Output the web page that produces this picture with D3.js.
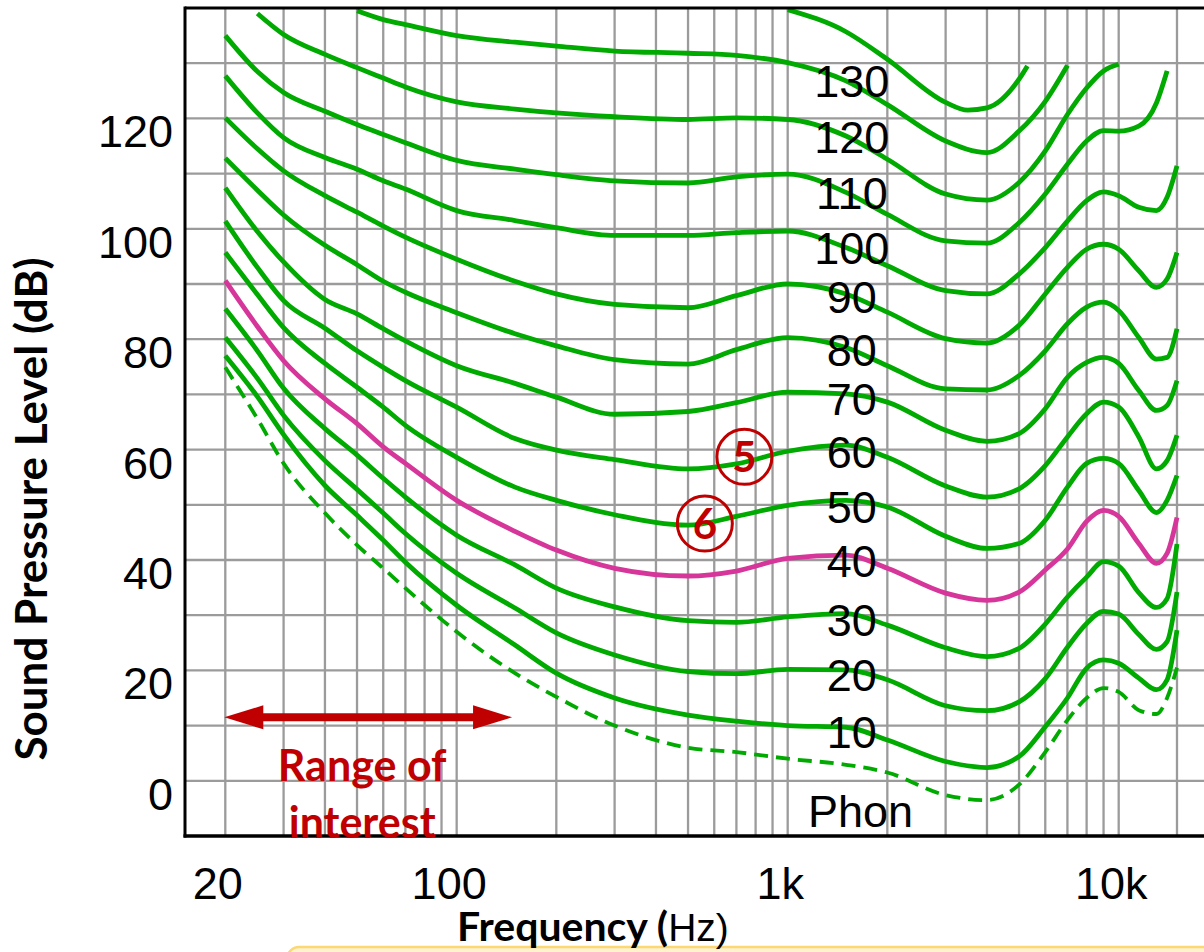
<!DOCTYPE html>
<html><head><meta charset="utf-8">
<script src="https://cdn.jsdelivr.net/npm/d3@7"></script>
<style>html,body{margin:0;padding:0;background:#fff;overflow:hidden}</style>
</head><body>
<svg id="chart" width="1204" height="952"></svg>
<script>
// ---- data ----
const freqs   = [20, 25, 30, 40, 50, 60, 70, 100, 150, 200, 300, 500, 700, 1000, 1500, 2000, 3000, 4000, 5000, 6000, 7000, 8000, 9000, 10000, 11500, 13000, 14000, 15000];
const phon0   = [74.9, 65.6, 57.5, 48.5, 42.7, 38.5, 34.9, 27.0, 19.5, 15.2, 10.0, 6.0, 5.2, 4.0, 2.9, 1.5, -2.6, -3.5, -0.7, 5.2, 11.0, 15.0, 16.8, 16.1, 12.8, 12.1, 15.0, 20.5];
const phon10  = [77.0, 69.6, 62.7, 53.5, 48.1, 43.6, 39.6, 31.8, 24.6, 19.5, 15.0, 11.9, 10.8, 10.0, 9.7, 7.4, 3.5, 2.4, 4.4, 9.8, 15.0, 20.4, 21.9, 21.3, 18.6, 16.5, 18.3, 27.3];
const phon20  = [80.3, 72.9, 66.2, 58.0, 52.8, 48.5, 44.8, 37.6, 31.3, 26.8, 22.8, 19.8, 19.4, 20.2, 20.1, 18.3, 13.6, 12.7, 14.3, 18.5, 24.2, 28.5, 30.7, 30.2, 26.5, 23.8, 25.2, 34.2];
const phon30  = [85.5, 77.9, 71.1, 63.8, 59.0, 54.8, 51.4, 44.5, 39.1, 34.9, 31.5, 29.0, 28.7, 29.7, 30.3, 28.2, 24.1, 22.5, 24.0, 28.4, 33.3, 36.9, 39.7, 38.9, 34.1, 31.4, 33.0, 42.9];
const phon40  = [90.6, 82.3, 76.1, 69.2, 64.7, 60.5, 57.5, 50.8, 45.2, 41.8, 38.5, 37.1, 38.0, 40.3, 40.9, 38.5, 34.0, 32.7, 34.2, 38.2, 42.0, 47.0, 49.0, 47.9, 43.0, 39.4, 41.2, 47.7];
const phon50  = [95.7, 88.1, 82.1, 75.6, 71.3, 67.7, 64.4, 58.6, 53.2, 50.8, 48.2, 46.3, 47.9, 49.9, 50.8, 49.6, 44.3, 42.1, 43.0, 47.2, 53.2, 57.5, 58.4, 57.5, 52.6, 48.6, 50.8, 55.3];
const phon60  = [101.4, 93.0, 87.0, 82.0, 77.9, 74.9, 72.5, 67.7, 62.0, 59.9, 58.2, 56.5, 57.4, 59.7, 60.8, 58.6, 53.4, 51.4, 52.9, 57.1, 62.3, 66.5, 68.6, 67.7, 62.3, 56.5, 58.0, 62.6];
const phon70  = [107.4, 99.5, 94.0, 87.2, 84.6, 81.9, 79.7, 75.2, 72.0, 69.5, 66.4, 66.9, 68.5, 70.4, 70.1, 68.6, 63.5, 61.5, 62.9, 67.4, 73.1, 75.8, 76.7, 75.6, 70.7, 67.1, 68.0, 72.5];
const phon80  = [112.8, 107.0, 102.5, 97.0, 93.5, 90.5, 88.5, 84.8, 81.0, 78.8, 76.3, 75.5, 78.1, 80.3, 78.5, 75.2, 71.0, 70.8, 73.4, 77.9, 82.8, 85.8, 86.7, 85.2, 80.3, 76.4, 76.7, 81.9];
const phon90  = [120.1, 114.5, 110.5, 106.0, 103.0, 100.5, 98.5, 94.5, 90.5, 88.2, 86.3, 85.7, 87.9, 90.0, 88.2, 84.9, 80.1, 79.3, 82.5, 88.2, 93.0, 96.3, 97.2, 96.3, 92.4, 89.4, 90.9, 95.7];
const phon100 = [127.7, 121.0, 116.5, 112.9, 110.8, 108.7, 107.2, 103.3, 101.5, 100.2, 98.8, 98.8, 99.3, 99.6, 96.6, 93.3, 88.8, 88.2, 91.8, 96.6, 101.4, 105.1, 106.7, 106.0, 103.9, 103.3, 105.7, 111.4];
const phon110 = [135.0, 128.5, 124.7, 121.3, 118.9, 117.1, 115.6, 112.4, 110.8, 109.8, 108.7, 108.3, 109.4, 109.9, 106.6, 102.6, 97.8, 97.4, 101.1, 106.3, 111.7, 115.9, 117.8, 117.7, 118.6, 122.8, 128.6, null];
const phon120 = [null, 139.0, 135.2, 131.6, 129.2, 127.3, 125.7, 123.0, 121.7, 121.0, 120.3, 119.8, 120.1, 119.8, 116.8, 112.6, 106.3, 105.2, 108.4, 114.1, 120.7, 125.5, 128.6, 129.8, null, null, null, null];
const phon130 = [null, null, null, null, 139.5, 137.9, 137.0, 135.0, 133.8, 133.1, 132.2, 131.8, 131.4, 130.1, 126.8, 122.5, 115.9, 113.8, 117.7, 123.1, 129.6, null, null, null, null, null, null, null];
const phon140Freqs = [1000, 1500, 2000, 3000, 3500, 4000, 5000, 5300];
const phon140      = [139.7, 135.7, 130.7, 122.9, 121.5, 121.9, 127.1, 129.5];

const gridFreqs = [20, 30, 40, 50, 60, 70, 80, 90, 100, 200, 300, 400, 500, 600, 700, 800, 900, 1000, 2000, 3000, 4000, 5000, 6000, 7000, 8000, 9000, 10000, 15000];
const gridDb = [0, 10, 20, 30, 40, 50, 60, 70, 80, 90, 100, 110, 120, 130];
const xTickValues = [20, 100, 1000, 10000];
const xTickLabels = ["20", "100", "1k", "10k"];
const yTickValues = [0, 20, 40, 60, 80, 100, 120];
const labelFreq = 1350;
const markers = [{label: "5", freq: 740, db: 58.7}, {label: "6", freq: 562, db: 46.6}];
const rangeFreqs = [20, 147];
const rangeDb = 11.5;

// ---- layout ----
const pL = 185, pR = 1212, pT = 8, pB = 836;
const x = d3.scaleLog().domain([20, 10000]).range([225.3, 1118.7]);
const y = d3.scaleLinear().domain([-10, 140]).range([pB, pT]);

const svg = d3.select("#chart");
const GREEN = "#00aa00", MAGENTA = "#d6369a", RED = "#c00000", GRID = "#9b9b9b";
const numFont = "'Liberation Sans', Arial, sans-serif";
const boldFont = "Lato, 'Open Sans', sans-serif";

// yellow box at the bottom
svg.append("rect").attr("x", 287).attr("y", 947).attr("width", 1000).attr("height", 40)
  .attr("rx", 12).attr("fill", "#fff3cf").attr("stroke", "#fbd874").attr("stroke-width", 2.5);

svg.append("defs").append("clipPath").attr("id", "plot")
  .append("rect").attr("x", pL).attr("y", pT).attr("width", pR - pL).attr("height", pB - pT);

// grid
const grid = svg.append("g");
grid.selectAll("line.v").data(gridFreqs).join("line").attr("class", "v")
  .attr("x1", d => x(d)).attr("x2", d => x(d)).attr("y1", pT).attr("y2", pB)
  .attr("stroke", GRID).attr("stroke-width", 2.3);
grid.selectAll("line.h").data(gridDb).join("line").attr("class", "h")
  .attr("x1", pL).attr("x2", pR).attr("y1", d => y(d)).attr("y2", d => y(d))
  .attr("stroke", GRID).attr("stroke-width", 2.3);

// curves
const series = [
  {level: 0, f: freqs, v: phon0},
  {level: 10, f: freqs, v: phon10},
  {level: 20, f: freqs, v: phon20},
  {level: 30, f: freqs, v: phon30},
  {level: 50, f: freqs, v: phon50},
  {level: 60, f: freqs, v: phon60},
  {level: 70, f: freqs, v: phon70},
  {level: 80, f: freqs, v: phon80},
  {level: 90, f: freqs, v: phon90},
  {level: 100, f: freqs, v: phon100},
  {level: 110, f: freqs, v: phon110},
  {level: 120, f: freqs, v: phon120},
  {level: 130, f: freqs, v: phon130},
  {level: 140, f: phon140Freqs, v: phon140},
  {level: 40, f: freqs, v: phon40}
];
const line = d3.line()
  .defined(d => d[1] != null)
  .x(d => x(d[0])).y(d => y(d[1]))
  .curve(d3.curveMonotoneX);
const curves = svg.append("g").attr("clip-path", "url(#plot)");
curves.selectAll("path").data(series).join("path")
  .attr("d", s => line(s.f.map((f, i) => [f, s.v[i]])))
  .attr("fill", "none")
  .attr("stroke", s => s.level === 40 ? MAGENTA : GREEN)
  .attr("stroke-width", s => s.level === 0 ? 3.8 : 4.8)
  .attr("stroke-dasharray", s => s.level === 0 ? "14,8" : null)
  .attr("stroke-linejoin", "round");

// axes frame
svg.append("line").attr("x1", pL).attr("x2", pR).attr("y1", pT).attr("y2", pT)
  .attr("stroke", "#000").attr("stroke-width", 3);
svg.append("line").attr("x1", pL).attr("x2", pL).attr("y1", pT - 1.5).attr("y2", pB + 1.5)
  .attr("stroke", "#000").attr("stroke-width", 3);
svg.append("line").attr("x1", pL - 1.5).attr("x2", pR).attr("y1", pB).attr("y2", pB)
  .attr("stroke", "#000").attr("stroke-width", 3.5);

// y axis labels
const yAxis = svg.append("g").attr("transform", `translate(${pL},0)`)
  .call(d3.axisLeft(y).tickValues(yTickValues).tickSize(0).tickPadding(12));
yAxis.select(".domain").remove();
yAxis.selectAll("text").attr("y", 14).attr("font-size", 45).attr("font-family", numFont).attr("fill", "#000");

// x axis labels
const xAxis = svg.append("g").attr("transform", `translate(0,${pB})`)
  .call(d3.axisBottom(x).tickValues(xTickValues).tickFormat((d, i) => xTickLabels[i]).tickSize(0).tickPadding(31));
xAxis.select(".domain").remove();
xAxis.selectAll("text").attr("dx", -8).attr("font-size", 45).attr("font-family", numFont).attr("fill", "#000");

// curve labels
function valueAt(s, f) {
  const i = s.f.findIndex(d => d >= f);
  const f0 = s.f[i - 1], f1 = s.f[i], v0 = s.v[i - 1], v1 = s.v[i];
  const t = Math.log(f / f0) / Math.log(f1 / f0);
  return v0 + t * (v1 - v0);
}
const labelled = series.filter(s => s.level >= 10 && s.level <= 130);
svg.append("g").selectAll("text").data(labelled).join("text")
  .attr("x", x(labelFreq) + 21)
  .attr("y", s => y(valueAt(s, labelFreq)) + 5)
  .attr("dy", "0.36em")
  .attr("text-anchor", "middle")
  .attr("font-size", 45).attr("font-family", numFont).attr("fill", "#000")
  .text(s => s.level);

svg.append("text").attr("x", 808).attr("y", 827)
  .attr("font-size", 45).attr("font-family", numFont).attr("fill", "#000").text("Phon");

// circled markers
const mk = svg.append("g").selectAll("g").data(markers).join("g")
  .attr("transform", d => `translate(${x(d.freq)},${y(d.db)})`);
mk.append("circle").attr("r", 27.5).attr("fill", "none").attr("stroke", RED).attr("stroke-width", 3);
mk.append("text").attr("text-anchor", "middle").attr("dy", "0.37em")
  .attr("font-size", 42).attr("font-weight", "bold").attr("font-family", boldFont).attr("fill", RED)
  .text(d => d.label);

// range of interest arrow
const ax0 = x(rangeFreqs[0]) - 1, ax1 = x(rangeFreqs[1]), ay = y(rangeDb);
svg.append("line").attr("x1", ax0 + 30).attr("x2", ax1 - 30).attr("y1", ay).attr("y2", ay)
  .attr("stroke", RED).attr("stroke-width", 8);
svg.append("path").attr("d", `M${ax0},${ay} L${ax0 + 39},${ay - 12} L${ax0 + 39},${ay + 12} Z`).attr("fill", RED);
svg.append("path").attr("d", `M${ax1},${ay} L${ax1 - 39},${ay - 12} L${ax1 - 39},${ay + 12} Z`).attr("fill", RED);
const midX = (ax0 + ax1) / 2 - 6;
svg.append("text").attr("x", midX).attr("y", 781).attr("text-anchor", "middle")
  .attr("font-size", 43).attr("font-weight", "bold").attr("font-family", boldFont).attr("fill", RED).text("Range of");
svg.append("text").attr("x", midX).attr("y", 838).attr("text-anchor", "middle")
  .attr("font-size", 43).attr("font-weight", "bold").attr("font-family", boldFont).attr("fill", RED).text("interest");

// axis titles
const xt = svg.append("text").attr("x", 457).attr("y", 941).attr("fill", "#000");
xt.append("tspan").attr("font-family", boldFont).attr("font-weight", "bold").attr("font-size", 41).text("Frequency (");
xt.append("tspan").attr("font-family", numFont).attr("font-size", 39).text("Hz)");

svg.append("text").attr("transform", "translate(47,509) rotate(-90)")
  .attr("text-anchor", "middle").attr("font-family", boldFont).attr("font-weight", "bold")
  .attr("font-size", 44).attr("fill", "#000").text("Sound Pressure Level (dB)");
</script>
</body></html>
